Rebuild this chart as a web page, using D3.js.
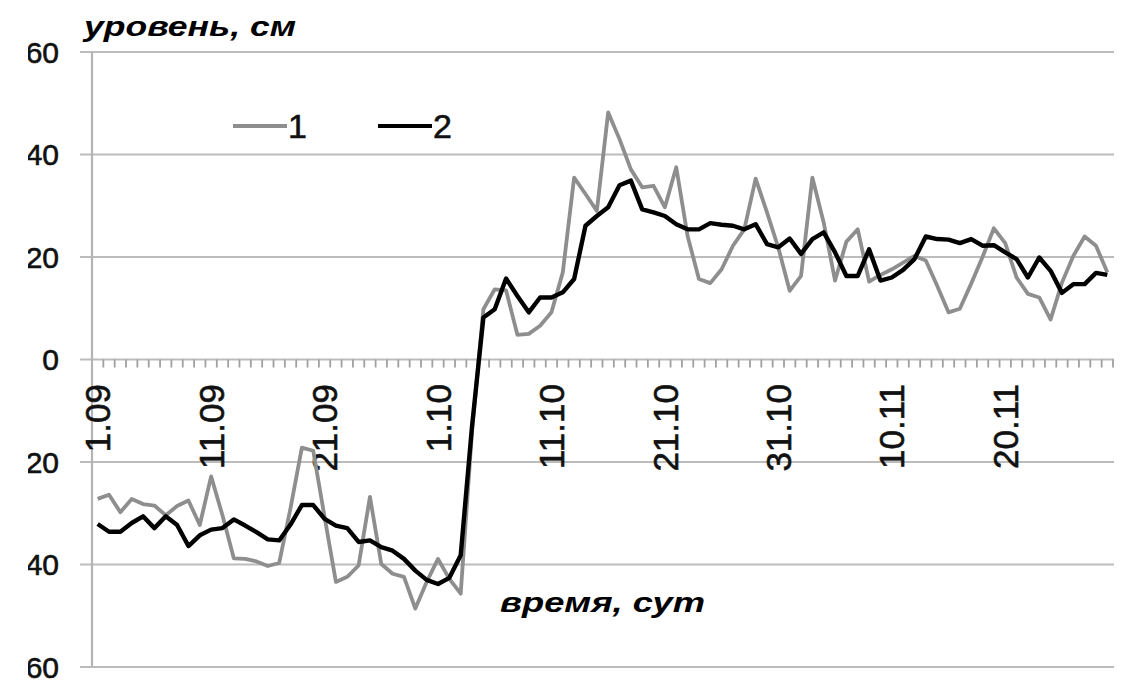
<!DOCTYPE html>
<html>
<head>
<meta charset="utf-8">
<script src="https://cdn.jsdelivr.net/npm/d3@7"></script>
<style>
  body { margin: 0; background: #fff; }
  svg { display: block; }
</style>
</head>
<body>
<div id="chart"></div>
<script>
// daily values, 1.09 .. 29.11
var series1 = [
  -27.2, -26.4, -29.8, -27.2, -28.2, -28.5, -30.4, -28.6, -27.5, -32.3,
  -22.8, -30.4, -38.8, -38.9, -39.4, -40.3, -39.7, -29.0, -17.2, -17.8,
  -30.7, -43.4, -42.4, -40.2, -26.8, -39.9, -41.8, -42.4, -48.6, -43.4,
  -38.9, -42.8, -45.7, -14.0, 9.8, 13.7, 13.5, 4.8, 5.0, 6.6,
  9.2, 17.0, 35.5, 32.3, 29.0, 48.2, 43.0, 37.1, 33.6, 33.9,
  29.7, 37.5, 24.1, 15.7, 14.9, 17.6, 22.2, 25.4, 35.3, 28.7,
  21.8, 13.4, 16.3, 35.5, 26.7, 15.4, 23.0, 25.4, 15.2, 16.5,
  17.6, 18.9, 20.2, 19.3, 14.4, 9.2, 9.9, 14.8, 20.0, 25.6,
  22.7, 16.0, 12.8, 12.1, 7.8, 15.0, 20.2, 24.0, 22.2, 17.0
];
var series2 = [
  -32.1, -33.6, -33.6, -31.9, -30.6, -32.9, -30.6, -32.3, -36.4, -34.3,
  -33.2, -32.9, -31.2, -32.4, -33.7, -35.1, -35.3, -32.2, -28.4, -28.4,
  -31.1, -32.4, -32.9, -35.6, -35.3, -36.6, -37.3, -38.9, -41.2, -43.0,
  -43.8, -42.6, -38.2, -13.0, 8.2, 9.8, 15.8, 12.4, 9.2, 12.1,
  12.1, 13.1, 15.7, 26.1, 28.0, 29.7, 34.0, 34.9, 29.3, 28.7,
  28.0, 26.4, 25.4, 25.4, 26.6, 26.3, 26.1, 25.4, 26.4, 22.5,
  21.9, 23.6, 20.6, 23.5, 24.8, 20.9, 16.3, 16.3, 21.5, 15.4,
  16.0, 17.5, 19.6, 24.0, 23.5, 23.4, 22.7, 23.5, 22.2, 22.3,
  20.9, 19.6, 16.0, 19.9, 17.3, 13.0, 14.7, 14.7, 16.9, 16.5
];
var days = d3.timeDay.range(new Date(2000, 8, 1), new Date(2000, 10, 30));
var yTicks = [-60, -40, -20, 0, 20, 40, 60];
var seriesNames = ["1", "2"];

var width = 1127, height = 685;
var font = "'Liberation Sans', Arial, sans-serif";
var fmt = d3.timeFormat("%-d.%m");

var svg = d3.select("#chart").append("svg")
  .attr("width", width)
  .attr("height", height);

var x = d3.scaleBand()
  .domain(days.map(function(d, i) { return i; }))
  .range([92, 1113])
  .padding(0);

var y = d3.scaleLinear()
  .domain([-60, 60])
  .range([667, 52]);

// the scan cuts the left edge of the value labels
svg.append("clipPath").attr("id", "leftcut")
  .append("rect").attr("x", 28).attr("y", 0).attr("width", width).attr("height", height);

// gridlines
svg.selectAll(".grid")
  .data(yTicks).enter()
  .append("line")
    .attr("x1", 80)
    .attr("x2", 1114)
    .attr("y1", function(d) { return y(d); })
    .attr("y2", function(d) { return y(d); })
    .style("stroke", "#bcbcbc")
    .style("stroke-width", 2.2);

// y axis line
svg.append("line")
  .attr("x1", 92).attr("x2", 92)
  .attr("y1", y(60)).attr("y2", y(-60))
  .style("stroke", "#b4b4b4")
  .style("stroke-width", 2.2);

// day ticks on the zero line
var bounds = days.map(function(d, i) { return x(i); }).concat([x.range()[1]]);
svg.selectAll(".tick")
  .data(bounds.slice(1)).enter()
  .append("line")
    .attr("x1", function(d) { return d; })
    .attr("x2", function(d) { return d; })
    .attr("y1", y(0))
    .attr("y2", y(0) + 8)
    .style("stroke", "#a0a0a0")
    .style("stroke-width", 1.8);

// y labels
svg.append("g").attr("clip-path", "url(#leftcut)")
  .selectAll("text")
  .data(yTicks).enter()
  .append("text")
    .attr("x", 59)
    .attr("y", function(d) { return y(d); })
    .attr("dy", "0.36em")
    .attr("text-anchor", "end")
    .style("font", "30px " + font)
    .style("fill", "#111")
    .style("stroke", "#111")
    .style("stroke-width", 0.6)
    .text(function(d) { return d; });

// x labels, every 10 days
svg.selectAll(".xlab")
  .data(days.filter(function(d, i) { return i % 10 === 0; })).enter()
  .append("text")
    .attr("transform", function(d) {
      var i = days.indexOf(d);
      return "translate(" + (x(i) + x.bandwidth() / 2) + "," + 384 + ") rotate(-90)";
    })
    .attr("dy", "0.36em")
    .attr("text-anchor", "end")
    .style("font", "35px " + font)
    .style("fill", "#111")
    .style("stroke", "#111")
    .style("stroke-width", 0.6)
    .text(function(d) { return fmt(d); });

var line = function(values) {
  return d3.line()
    .x(function(d, i) { return x(i) + x.bandwidth() / 2; })
    .y(function(d) { return y(d); })(values);
};

svg.append("path")
  .attr("d", line(series1))
  .style("fill", "none")
  .style("stroke", "#8e8e8e")
  .style("stroke-width", 3.8)
  .style("stroke-linejoin", "round");

svg.append("path")
  .attr("d", line(series2))
  .style("fill", "none")
  .style("stroke", "#000")
  .style("stroke-width", 4.4)
  .style("stroke-linejoin", "round");

// legend
var legend = [
  {name: seriesNames[0], color: "#8e8e8e", x: 233},
  {name: seriesNames[1], color: "#000", x: 378}
];
var lg = svg.selectAll(".legend")
  .data(legend).enter()
  .append("g");
lg.append("line")
  .attr("x1", function(d) { return d.x; })
  .attr("x2", function(d) { return d.x + 54; })
  .attr("y1", 126)
  .attr("y2", 126)
  .style("stroke", function(d) { return d.color; })
  .style("stroke-width", 4);
lg.append("text")
  .attr("x", function(d) { return d.x + 55; })
  .attr("y", 138)
  .style("font", "34px " + font)
  .style("fill", "#111")
  .style("stroke", "#111")
  .style("stroke-width", 0.6)
  .text(function(d) { return d.name; });

// axis titles
svg.append("text")
  .attr("x", 84)
  .attr("y", 36)
  .attr("textLength", 212)
  .attr("lengthAdjust", "spacingAndGlyphs")
  .style("font", "italic bold 28px " + font)
  .style("fill", "#000")
  .text("уровень, см");

svg.append("text")
  .attr("x", 500)
  .attr("y", 612)
  .attr("textLength", 205)
  .attr("lengthAdjust", "spacingAndGlyphs")
  .style("font", "italic bold 28px " + font)
  .style("fill", "#000")
  .text("время, сут");
</script>
</body>
</html>
